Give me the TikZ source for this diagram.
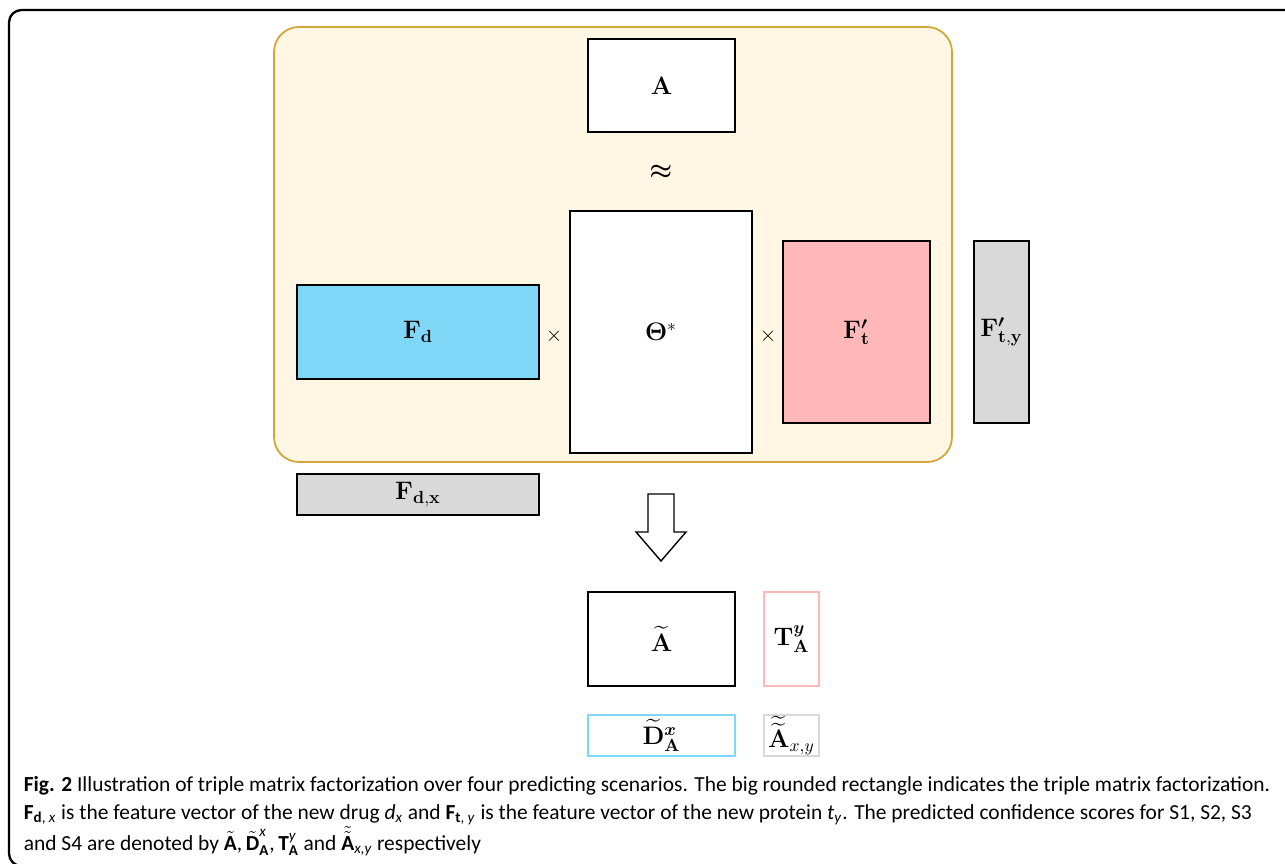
\documentclass[tikz,border=0pt]{standalone}
\usepackage{amsmath,bm}
\usepackage[no-math]{fontspec}
\setmainfont{Carlito}
\usetikzlibrary{positioning}
\definecolor{tmfcream}{HTML}{FFF7E4}
\definecolor{tmfgold}{HTML}{D4A537}
\definecolor{drugblue}{HTML}{7FD7F7}
\definecolor{protpink}{HTML}{FFB7B7}
\definecolor{newgray}{HTML}{D9D9D9}
\newcommand{\mlabel}{\fontsize{14}{16}\selectfont}
\begin{document}
\begin{tikzpicture}[x = 0.02cm, y = -0.02cm, line width = 1pt]
    \tikzstyle{mat} = [draw, shape = rectangle, inner sep = 0pt, font = \mlabel]
    \tikzstyle{res} = [mat, line width = 1.2pt]
    \tikzstyle{captext} = [anchor = base west, inner sep = 0pt, font = \fontsize{12.2}{14}\selectfont]

    \clip (0,0) rectangle (1285,864);
    \fill[white] (0,0) rectangle (1285,864);
    \draw[line width = 1.3pt, rounded corners = 0.25cm] (1300,10) -- (9,10) -- (9,866) -- (100,866);

    % triple matrix factorization
    \draw[tmfgold, fill = tmfcream, line width = 1pt, rounded corners = 0.5cm] (274,27) rectangle (952,462);
    \node[mat, fill = white, minimum width = 2.94cm, minimum height = 1.86cm] (amat) at (661.5,85.5) {$\mathbf{A}$};
    \node[font = \mlabel] (approx) at (661,172) {$\bm{\approx}$};
    \node[mat, fill = white, minimum width = 3.64cm, minimum height = 4.84cm] (theta) at (661,332) {$\bm{\Theta}^{*}$};
    \node[mat, fill = drugblue, minimum width = 4.84cm, minimum height = 1.88cm] (fd) at (418,332) {$\mathbf{F}_{\mathbf{d}}$};
    \node[mat, fill = protpink, minimum width = 2.94cm, minimum height = 3.64cm] (ftp) at (856.5,332) {$\mathbf{F}^{\bm{\prime}}_{\mathbf{t}}$};
    \node[font = \large] (times1) at (554,336) {$\times$};
    \node[font = \large] (times2) at (768,336) {$\times$};

    % new drug and new protein
    \node[mat, fill = newgray, minimum width = 1.10cm, minimum height = 3.64cm] (ftpy) [right of = ftp, node distance = 2.9cm] {$\mathbf{F}^{\bm{\prime}}_{\mathbf{t,y}}$};
    \node[mat, fill = newgray, minimum width = 4.84cm, minimum height = 0.82cm] (fdx) [below of = fd, node distance = 3.25cm] {$\mathbf{F}_{\mathbf{d,x}}$};

    \draw[line width = 0.8pt, fill = white] (648,494) -- (674,494) -- (674,532) -- (686,532)
        -- (661,561) -- (636,532) -- (648,532) -- cycle;

    % predicted scores
    \node[res, minimum width = 2.94cm, minimum height = 1.88cm] (atil) at (661.5,639) {$\widetilde{\mathbf{A}}$};
    \node[res, draw = protpink, minimum width = 1.10cm, minimum height = 1.88cm] (tay) [right of = atil, node distance = 2.6cm] {$\mathbf{T}^{\bm{y}}_{\mathbf{A}}$};
    \node[res, draw = drugblue, minimum width = 2.94cm, minimum height = 0.82cm] (dax) [below of = atil, node distance = 1.93cm] {$\widetilde{\mathbf{D}}^{\bm{x}}_{\mathbf{A}}$};
    \node[res, draw = newgray, minimum width = 1.10cm, minimum height = 0.82cm] (aaxy) [right of = dax, node distance = 2.6cm] {$\widetilde{\widetilde{\mathbf{A}}}_{x,y}$};

    % caption
    \node[captext] (cap1) at (23,791) {\textbf{Fig. 2} Illustration of triple matrix factorization over four predicting scenarios. The big rounded rectangle indicates the triple matrix factorization.};
    \node[captext] (cap2) at (23,819) {\textbf{F}\textsubscript{\textbf{d}, \textit{x}} is the feature vector of the new drug \textit{d}\textsubscript{\textit{x}} and \textbf{F}\textsubscript{\textbf{t}, \textit{y}} is the feature vector of the new protein \textit{t}\textsubscript{\textit{y}}. The predicted confidence scores for S1, S2, S3};
    \node[captext] (cap3) at (23,850) {and S4 are denoted by $\tilde{\textbf{A}}$,\,$\tilde{\textbf{D}}^{\textit{x}}_{\textbf{A}}$,\,$\textbf{T}^{\textit{y}}_{\textbf{A}}$ and $\tilde{\tilde{\textbf{A}}}_{\textit{x,y}}$ respectively};
\end{tikzpicture}
\end{document}
